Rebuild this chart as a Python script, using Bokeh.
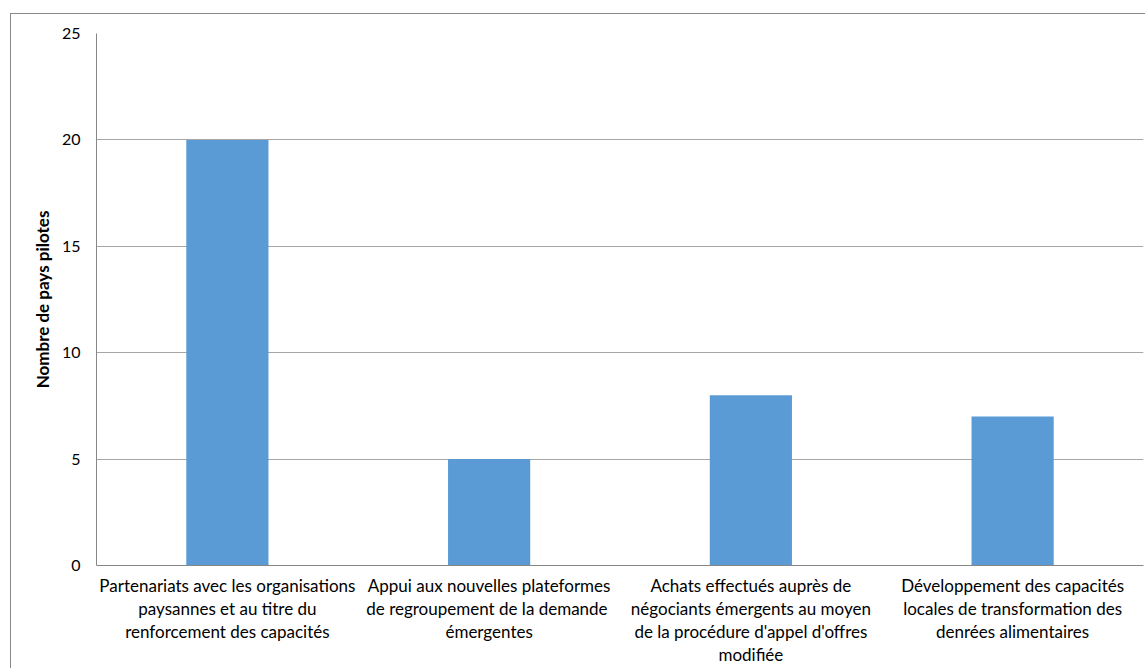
from bokeh.plotting import figure
from bokeh.models import FactorRange, ColumnDataSource, SingleIntervalTicker
from bokeh.embed import file_html
from bokeh.resources import INLINE

categories = [
    "Partenariats avec les organisations\npaysannes et au titre du\nrenforcement des capacités",
    "Appui aux nouvelles plateformes\nde regroupement de la  demande\némergentes",
    "Achats effectués auprès de\nnégociants émergents au moyen\nde la procédure d'appel d'offres\nmodifiée",
    "Développement des capacités\nlocales de transformation des\ndenrées alimentaires",
]
values = [20, 5, 8, 7]
y_label = "Nombre de pays pilotes"

FONT = "Lato"

src = ColumnDataSource(dict(cat=categories, val=values))

p = figure(
    width=1135, height=655,
    x_range=FactorRange(*categories, range_padding=0),
    y_range=(0, 25),
    output_backend="svg", toolbar_location=None,
    min_border_left=85, min_border_top=19, min_border_right=3, min_border_bottom=104,
)
p.margin = (13, 0, 0, 10)
p.styles = {"border-left": "1px solid #898989", "border-top": "1px solid #898989",
            "box-sizing": "border-box"}

p.vbar(x="cat", top="val", width=0.314, source=src, color="#5B9BD5", line_color=None)

p.outline_line_color = None
p.xgrid.grid_line_color = None
p.ygrid.grid_line_color = "#A6A6A6"
p.ygrid.grid_line_width = 1

p.yaxis.ticker = SingleIntervalTicker(interval=5)
p.yaxis.axis_line_color = "#868686"
p.yaxis.major_tick_line_color = None
p.yaxis.minor_tick_line_color = None
p.yaxis.major_label_text_font = FONT
p.yaxis.major_label_text_font_size = "16px"
p.yaxis.major_label_text_color = "#000000"
p.yaxis.major_label_standoff = 10
p.yaxis.axis_label = y_label
p.yaxis.axis_label_text_font = FONT
p.yaxis.axis_label_text_font_size = "17px"
p.yaxis.axis_label_text_font_style = "bold"
p.yaxis.axis_label_text_color = "#000000"
p.yaxis.axis_label_standoff = 6

p.xaxis.axis_line_color = "#868686"
p.xaxis.major_tick_line_color = None
p.xaxis.minor_tick_line_color = None
p.xaxis.major_label_text_font = FONT
p.xaxis.major_label_text_font_size = "17px"
p.xaxis.major_label_text_color = "#000000"
p.xaxis.major_label_text_line_height = 1.11
p.xaxis.major_label_standoff = 3
p.xaxis.group_text_font_size = "0px"

open("out.html", "w").write(file_html(p, INLINE))
